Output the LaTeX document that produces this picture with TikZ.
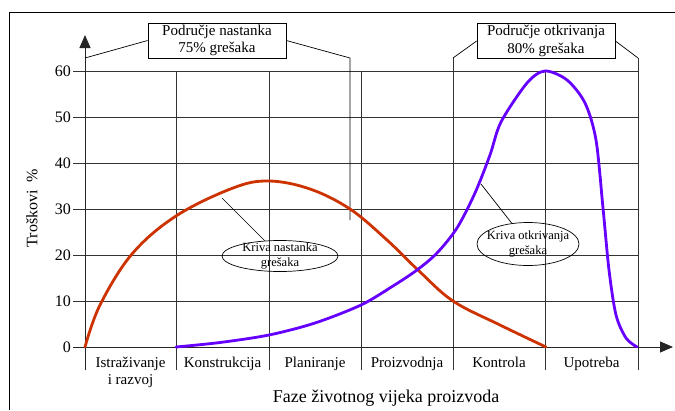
\documentclass[tikz,border=0pt]{standalone}
\usepackage{fontspec}
\setmainfont{Liberation Serif}
\usetikzlibrary{shapes.geometric,arrows.meta}
\definecolor{nastred}{HTML}{CC3300}
\definecolor{otkpurple}{HTML}{6600FF}
\begin{document}
\begin{tikzpicture}[x=1pt,y=-1pt,
  gridline/.style={black!80, line width=0.9pt},
  axisline/.style={black!85, line width=0.9pt},
  thinline/.style={black, line width=0.7pt},
  tip/.style={-{Triangle[length=13pt,width=11pt]}},
  ticklabel/.style={font=\fontsize{16}{18}\selectfont, anchor=east, inner sep=0pt},
  phase/.style={font=\fontsize{15}{17}\selectfont, anchor=north, align=center, inner sep=0pt},
  regionbox/.style={draw, thinline, minimum width=138pt, minimum height=35pt, inner sep=0pt,
                    align=center, font=\fontsize{15}{17.5}\selectfont},
  curvelabel/.style={draw, thinline, ellipse, inner sep=0pt},
  curvetext/.style={align=center, inner sep=0pt, font=\fontsize{12.5}{15}\selectfont},
  costcurve/.style={line width=2.8pt, line cap=round, line join=round}]
\useasboundingbox (0,0) rectangle (675,410);

% outer frame
\draw[thinline] (675,12) -- (9,12) -- (9,410);

% horizontal grid lines and tick labels
\foreach \k in {1,...,6}
  \draw[gridline] (73,{347-46*\k}) -- (638,{347-46*\k});
\foreach \k in {0,...,6}{
  \pgfmathtruncatemacro{\val}{10*\k}
  \node[ticklabel] (t\k) at (71,{347-46*\k}) {\val};
}

% phase boundaries
\foreach \x in {176,269,361,545}
  \draw[gridline] (\x,71) -- (\x,370);
\draw[gridline] (453,58) -- (453,370);
\draw[gridline] (638,58) -- (638,370);

% axes
\draw[axisline, tip] (85,370) -- (85,35);
\draw[axisline, tip] (73,347) -- (673,347);

% region boxes with their brackets
\node[regionbox] (b1) at (217,40.5) {Područje nastanka\\75\% grešaka};
\node[regionbox] (b2) at (546,41) {Područje otkrivanja\\80\% grešaka};
\coordinate (b1l) at (85,58);
\coordinate (b1r) at (350,58);
\coordinate (b1e) at (350,220);
\coordinate (b2l) at (453,58);
\coordinate (b2r) at (638,58);
\draw[thinline] (b1l) -- (b1.west);
\draw[thinline] (b1.east) -- (b1r) -- (b1e);
\draw[thinline] (b2.west) -- (b2l);
\draw[thinline] (b2.east) -- (b2r);

% curve of error origin
\draw[costcurve, nastred] plot[smooth, tension=0.6] coordinates {
  (85,347) (100,305) (132,254) (176,216) (233,188) (269,181) (310,189)
  (350,209) (387,240) (418,270) (453,301) (500,325) (546,347)};

% curve of error detection
\draw[costcurve, otkpurple] plot[smooth, tension=0.5] coordinates {
  (176,347) (220,342.5) (269,335) (315,323) (361,305) (393,286) (417,270)
  (437,253) (457,228) (475,193) (490,155) (501,122) (527,83) (545,71)
  (567,80) (585,103) (596,140) (603,208) (609,270) (616,315) (626,338)
  (637,347)};

% curve labels
\node[curvelabel, minimum width=116pt, minimum height=31pt] (e1) at (280,256) {};
\node[curvetext] (e1t) at (e1) {Kriva nastanka\\grešaka};
\node[curvelabel, minimum width=102pt, minimum height=43pt] (e2) at (528,244) {};
\node[curvetext] (e2t) at (e2) {Kriva otkrivanja\\grešaka};
\coordinate (p1) at (222,198);
\coordinate (p2) at (481,184);
\draw[thinline] (p1) -- (e1);
\draw[thinline] (p2) -- (e2);

% phase names
\node[phase] (f1) at (130.5,356.5) {Istraživanje\\i razvoj};
\node[phase] (f2) at (222.5,356.5) {Konstrukcija};
\node[phase] (f3) at (315,356.5) {Planiranje};
\node[phase] (f4) at (407,356.5) {Proizvodnja};
\node[phase] (f5) at (499,356.5) {Kontrola};
\node[phase] (f6) at (591.5,356.5) {Upotreba};

% axis titles
\node[font=\fontsize{18}{20}\selectfont, inner sep=0pt] (xt) at (386,398) {Faze životnog vijeka proizvoda};
\node[font=\fontsize{16}{18}\selectfont, inner sep=0pt, rotate=90] (yt) at (32,208) {Troškovi~~\%};
\end{tikzpicture}
\end{document}
